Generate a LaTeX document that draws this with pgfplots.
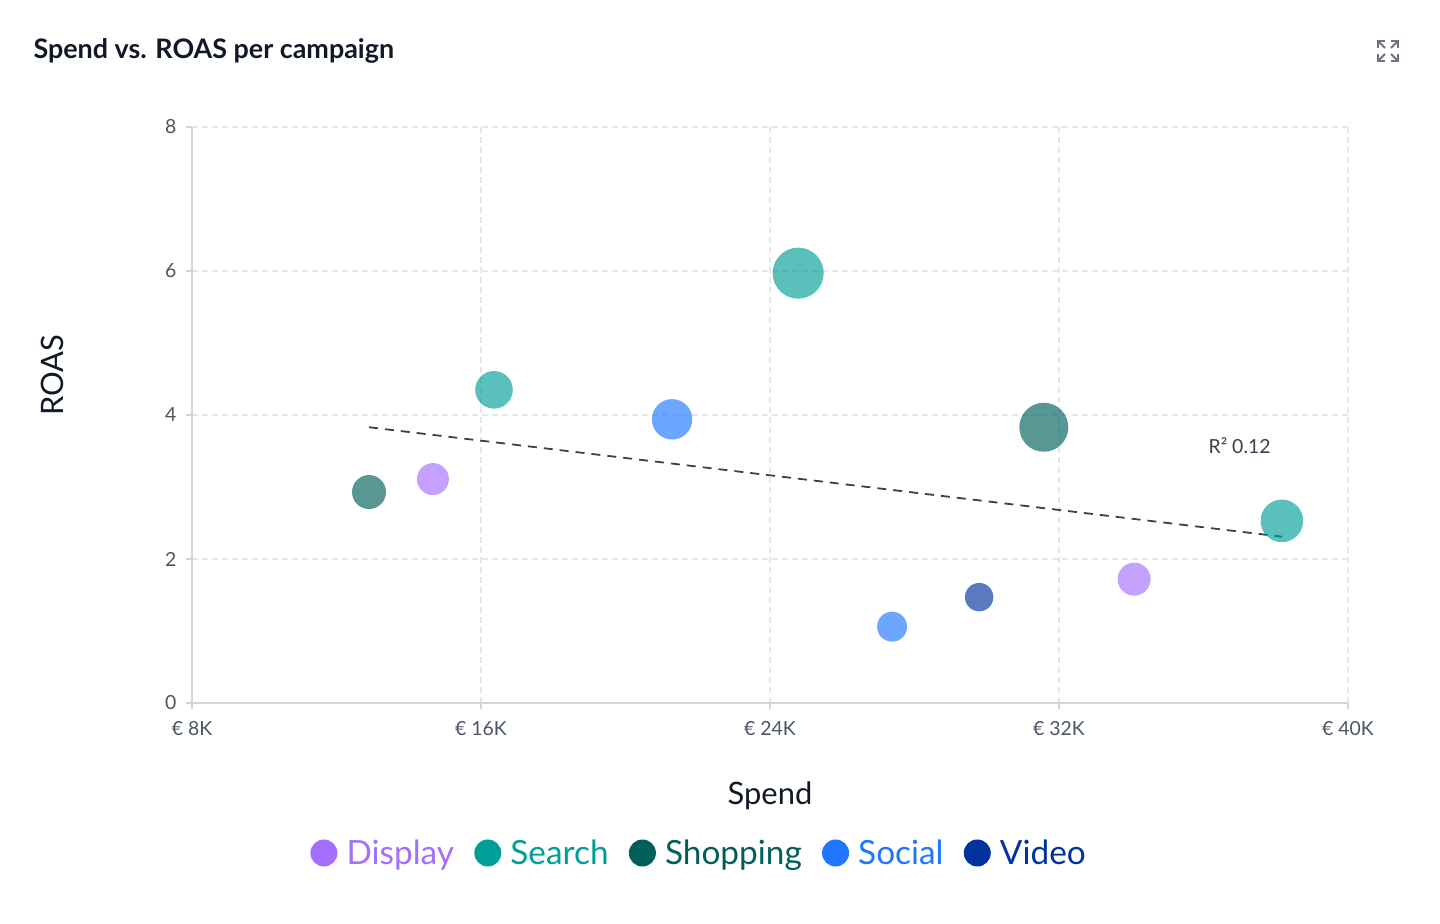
\documentclass[border=0pt]{standalone}
\usepackage{pgfplots}
\usepackage{pgfplotstable}
\pgfplotsset{compat=1.18}
\usepackage{fontspec}
\setmainfont{Lato}

\definecolor{cDisplay}{HTML}{A46FFD}
\definecolor{cSearch}{HTML}{009E96}
\definecolor{cShopping}{HTML}{005F5A}
\definecolor{cSocial}{HTML}{1F76FF}
\definecolor{cVideo}{HTML}{0033A0}
\definecolor{gridc}{HTML}{E5E7EB}
\definecolor{axisc}{HTML}{D1D5DB}
\definecolor{tickc}{HTML}{4B5563}
\definecolor{trendc}{HTML}{374151}
\definecolor{titlec}{HTML}{111827}
\definecolor{iconc}{HTML}{6B7280}

% spend in thousands of euro, ROAS, bubble radius (bp)
\pgfplotstableread{
x     y    r
14.67 3.11 16
34.08 1.72 16.5
}\displaydata
\pgfplotstableread{
x     y    r
16.36 4.35 18.8
24.78 5.97 25.5
38.17 2.53 21.3
}\searchdata
\pgfplotstableread{
x     y    r
12.90 2.93 17
31.58 3.83 24.5
}\shoppingdata
\pgfplotstableread{
x     y    r
21.29 3.94 20.2
27.38 1.06 15
}\socialdata
\pgfplotstableread{
x     y    r
29.79 1.47 14.2
}\videodata

\pgfplotsset{
  bubble/.style={
    scatter, only marks, mark=*,
    scatter/use mapped color={draw=none, fill=#1},
    visualization depends on={\thisrow{r} \as \bubblerad},
    scatter/@pre marker code/.append style={/tikz/mark size=\bubblerad bp},
    fill opacity=0.65, draw opacity=0,
    legend image code/.code={\fill[#1, fill opacity=1] (0bp,0bp) circle (13.5bp);},
  },
}

\begin{document}
\begin{tikzpicture}
\path[use as bounding box] (0,0) rectangle (1440bp,924bp);

% title
\node[anchor=west, text=titlec, font=\fontsize{27}{32}\selectfont\bfseries]
  at (30bp,873bp) {Spend vs. ROAS per campaign};

% expand icon
\begin{scope}[draw=iconc, line width=2bp, line cap=butt]
  \draw (1378bp,876bp) -- (1378bp,883bp) -- (1385bp,883bp);
  \draw (1378bp,883bp) -- (1385bp,876bp);
  \draw (1398bp,876bp) -- (1398bp,883bp) -- (1391bp,883bp);
  \draw (1398bp,883bp) -- (1391bp,876bp);
  \draw (1378bp,870bp) -- (1378bp,863bp) -- (1385bp,863bp);
  \draw (1378bp,863bp) -- (1385bp,870bp);
  \draw (1398bp,870bp) -- (1398bp,863bp) -- (1391bp,863bp);
  \draw (1398bp,863bp) -- (1391bp,870bp);
\end{scope}

\begin{axis}[
  at={(192bp,221bp)}, anchor=south west,
  scale only axis, width=1156bp, height=576bp,
  xmin=8, xmax=40, ymin=0, ymax=8,
  xtick={8,16,24,32,40},
  xticklabels={€ 8K,€ 16K,€ 24K,€ 32K,€ 40K},
  ytick={0,2,4,6,8},
  axis x line=bottom, axis y line=left,
  axis line style={-, draw=axisc, line width=1.2bp},
  tick align=outside, major tick length=6bp,
  tick style={draw=axisc, line width=1.2bp},
  grid=major,
  major grid style={draw=gridc, line width=1.2bp, dash pattern=on 6bp off 4bp},
  /pgf/number format/assume math mode=true,
  ticklabel style={text=tickc, font=\fontsize{19.5}{22}\selectfont},
  xticklabel style={yshift=-9bp},
  yticklabel style={xshift=-6bp},
  xlabel={Spend}, ylabel={ROAS},
  label style={text=titlec, font=\fontsize{31}{36}\selectfont},
  x label style={at={(axis description cs:0.5,-0.161)}, anchor=center},
  y label style={at={(axis description cs:-0.121,0.569)}, anchor=center, rotate=0},
  legend columns=5,
  legend style={
    draw=none, fill=none,
    at={(axis description cs:0.4386,-0.2604)}, anchor=center,
    font=\fontsize{33.5}{38}\selectfont,
    /tikz/every odd column/.append style={column sep=7bp},
    /tikz/every even column/.append style={column sep=18bp},
    cells={anchor=west},
  },
  clip=false,
]
% linear fit across the spend range
\addplot[forget plot, draw=trendc, line width=1.8bp, dash pattern=on 9bp off 7bp]
  coordinates {(12.90,3.83) (38.17,2.31)};
\node[text=trendc, font=\fontsize{19.5}{22}\selectfont] at (axis cs:37.0,3.58) {R² 0.12};

\addplot[bubble=cDisplay] table[x=x, y=y] {\displaydata};
\addlegendentry{\textcolor{cDisplay}{Display}}
\addplot[bubble=cSearch] table[x=x, y=y] {\searchdata};
\addlegendentry{\textcolor{cSearch}{Search}}
\addplot[bubble=cShopping] table[x=x, y=y] {\shoppingdata};
\addlegendentry{\textcolor{cShopping}{Shopping}}
\addplot[bubble=cSocial] table[x=x, y=y] {\socialdata};
\addlegendentry{\textcolor{cSocial}{Social}}
\addplot[bubble=cVideo] table[x=x, y=y] {\videodata};
\addlegendentry{\textcolor{cVideo}{Video}}
\end{axis}
\end{tikzpicture}
\end{document}
